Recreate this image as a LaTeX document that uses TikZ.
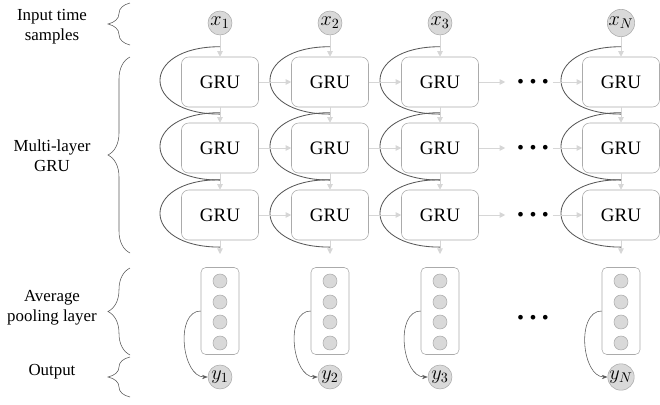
\documentclass[tikz,border=0pt]{standalone}
\usepackage{fontspec}
\setmainfont{Liberation Serif}
\usetikzlibrary{positioning,arrows.meta,decorations.pathreplacing}
\definecolor{boxgray}{HTML}{ABABAB}
\definecolor{arrowgray}{HTML}{D6D6D6}
\definecolor{circfill}{HTML}{D9D9D9}
\definecolor{loopgray}{HTML}{595959}

\begin{document}
\begin{tikzpicture}[x=0.025cm, y=-0.025cm,
    gru/.style={rectangle, draw=boxgray, rounded corners=0.18cm, minimum width=1.925cm, minimum height=1.25cm, font=\fontsize{13.5}{15}\selectfont},
    sample/.style={circle, draw=boxgray, fill=circfill, minimum size=0.6cm, inner sep=0pt, font=\fontsize{14}{14}\selectfont},
    pool/.style={rectangle, draw=boxgray, rounded corners=0.12cm, minimum width=0.95cm, minimum height=2.175cm},
    unit/.style={circle, draw=boxgray, fill=circfill, minimum size=0.35cm, inner sep=0pt},
    dots/.style={inner sep=3pt, font=\fontsize{8}{8}\selectfont},
    flow/.style={-{Triangle[length=4pt,width=4pt]}, arrowgray, semithick},
    recur/.style={loopgray, semithick},
    outarrow/.style={-{Stealth[length=4pt]}, loopgray},
    side/.style={align=center, font=\fontsize{12}{14.5}\selectfont},
    grp/.style={decorate, decoration={brace, amplitude=0.55cm}, loopgray}]

\useasboundingbox (0,0) rectangle (660,404);

% columns: samples, stacked GRUs, pooling, outputs
\foreach \c/\n/\i in {220/1/1, 330/2/2, 440/3/3, 621/4/N} {
  \node[sample] (x\n) at (\c,23) {$x_{\i}$};
  \node[gru] (g\n1) at (\c,82) {GRU};
  \node[gru] (g\n2) at (\c,148) {GRU};
  \node[gru] (g\n3) at (\c,215) {GRU};
  \node[pool] (p\n) at (\c,311) {};
  \foreach \u/\yy in {1/281, 2/302, 3/322, 4/343}
    \node[unit] (u\n\u) at (\c,\yy) {};
  \node[sample] (y\n) at (\c,377) {$y_{\i}$};

  \draw[flow] (x\n) -- (g\n1);
  \draw[flow] (g\n1) -- (g\n2);
  \draw[flow] (g\n2) -- (g\n3);
  \draw[flow, shorten >=0.33cm] (g\n3) -- (p\n);
  \foreach \r in {1,2,3}
    \draw[recur] ([yshift=0.25cm]g\n\r.north) .. controls +(-2cm,0) and +(-2cm,0) .. ([yshift=-0.17cm]g\n\r.south);
  \draw[outarrow] (p\n.west) to[out=180, in=180] (y\n.west);
}

% dots between column 3 and column N
\foreach \r/\yy in {1/82, 2/148, 3/215} {
  \node[dots] (d\r) at (533,\yy) {$\bullet$\hspace{4.5pt}$\bullet$\hspace{4.5pt}$\bullet$};
  \draw[flow] (g1\r) -- (g2\r);
  \draw[flow] (g2\r) -- (g3\r);
  \draw[flow, shorten >=0.2cm] (g3\r) -- (d\r);
  \draw[flow] (d\r) -- (g4\r);
}
\node[dots] (d4) at (533,318) {$\bullet$\hspace{4.5pt}$\bullet$\hspace{4.5pt}$\bullet$};

% braces and labels
\draw[grp] (130,45) -- (130,3);
\draw[grp] (130,253) -- (130,57);
\draw[grp] (130,355) -- (130,268);
\draw[grp] (130,397) -- (130,357);

\node[side] (lin) at (52,27) {Input time\\samples};
\node[side] (lgru) at (52,156) {Multi-layer\\GRU};
\node[side] (lpool) at (52,308) {Average\\pooling layer};
\node[side] (lout) at (52,372) {Output};
\end{tikzpicture}
\end{document}
